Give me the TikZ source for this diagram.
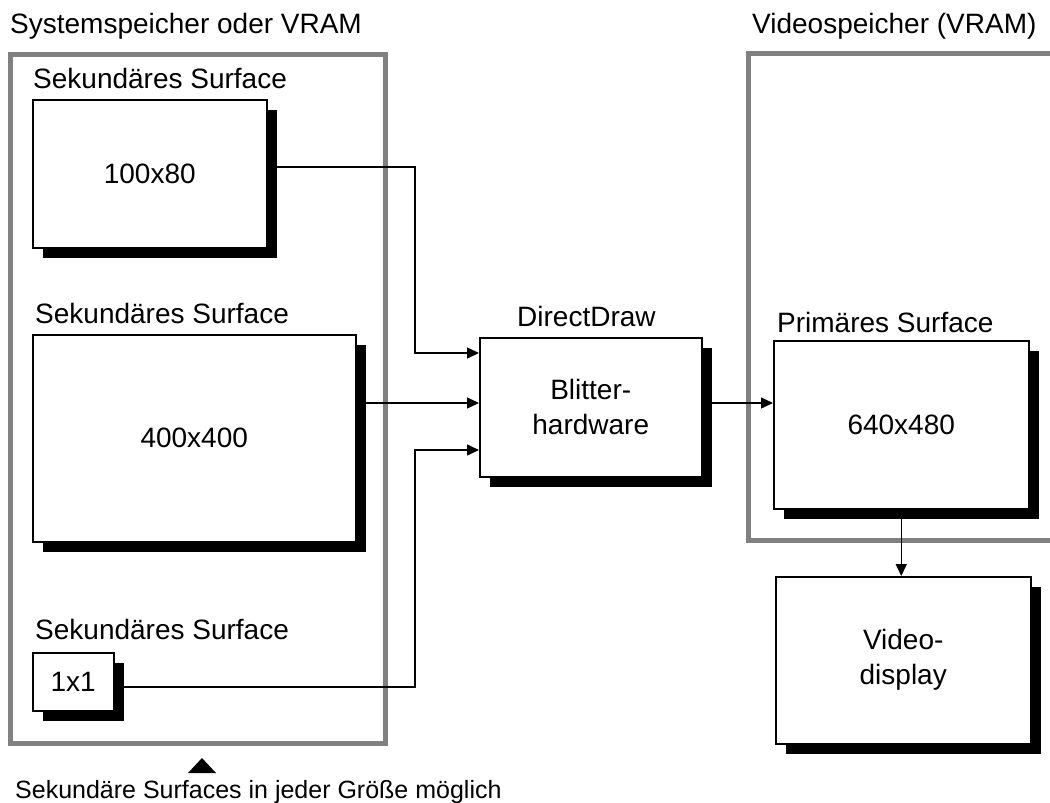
\documentclass[tikz,border=0pt]{standalone}
\usepackage{fontspec}
\setmainfont{Liberation Sans}
\usetikzlibrary{arrows.meta,shadows}
\definecolor{framegray}{RGB}{128,128,128}
\begin{document}
\begin{tikzpicture}[x=1pt,y=-1pt,
  every node/.style={font=\fontsize{28}{35}\selectfont},
  surf/.style={draw=black, line width=1.5pt, fill=white, inner sep=0pt,
    anchor=north west, align=center,
    drop shadow={shadow xshift=10pt, shadow yshift=-10pt, fill=black, opacity=1}},
  memframe/.style={draw=framegray, line width=5pt},
  lbl/.style={anchor=base west, inner sep=0pt},
  conn/.style={line width=1.5pt, -{Triangle[length=12pt,width=11pt]}}]

% canvas
\useasboundingbox (0,0) rectangle (1050,803);
\fill[white] (0,0) rectangle (1050,803);

% memory regions
\draw[memframe] (10.5,54.5) rectangle (385.5,743.5);
\draw[memframe] (1056,53) -| (748,540) -- (1056,540);

% headings and captions
\node[lbl] (t1) at (10,34) {Systemspeicher oder VRAM};
\node[lbl] (t2) at (752,34) {Videospeicher (VRAM)};
\node[lbl] (l1) at (33,88) {Sekundäres Surface};
\node[lbl] (l2) at (35,323) {Sekundäres Surface};
\node[lbl] (l3) at (35,639) {Sekundäres Surface};
\node[lbl] (l4) at (517,326) {DirectDraw};
\node[lbl] (l5) at (777,332) {Primäres Surface};
\node[lbl, font=\fontsize{25}{30}\selectfont] (cap) at (15,798)
  {Sekundäre Surfaces in jeder Größe möglich};
\fill (202,758) -- (216,773) -- (188,773) -- cycle;

% surfaces
\node[surf, minimum width=234pt, minimum height=148pt] (b1) at (32,99) {100x80};
\node[surf, minimum width=323pt, minimum height=207pt] (b2) at (32,334) {400x400};
\node[surf, minimum width=81pt, minimum height=58pt] (b3) at (32,652) {1x1};
\node[surf, minimum width=222pt, minimum height=139pt] (dd) at (479,337) {Blitter-\\hardware};
\node[surf, minimum width=255pt, minimum height=168pt] (ps) at (773,340) {640x480};
\node[surf, minimum width=255pt, minimum height=167pt] (vd) at (775,576) {Video-\\display};

% routing points
\coordinate (j1) at (415,167);
\coordinate (j2) at (415,353);
\coordinate (jm) at (415,403);
\coordinate (j3) at (415,450);
\coordinate (j4) at (415,687);

% connectors
\draw[conn] (b1.east |- j1) -- (j1) -- (j2) -- (dd.west |- j2);
\draw[conn] (b2.east |- jm) -- (dd.west |- jm);
\draw[conn] (b3.east |- j4) -- (j4) -- (j3) -- (dd.west |- j3);
\draw[conn] (dd.east |- jm) -- (ps.west |- jm);
\draw[conn] (ps.south) -- (ps.south |- vd.north);
\end{tikzpicture}
\end{document}
